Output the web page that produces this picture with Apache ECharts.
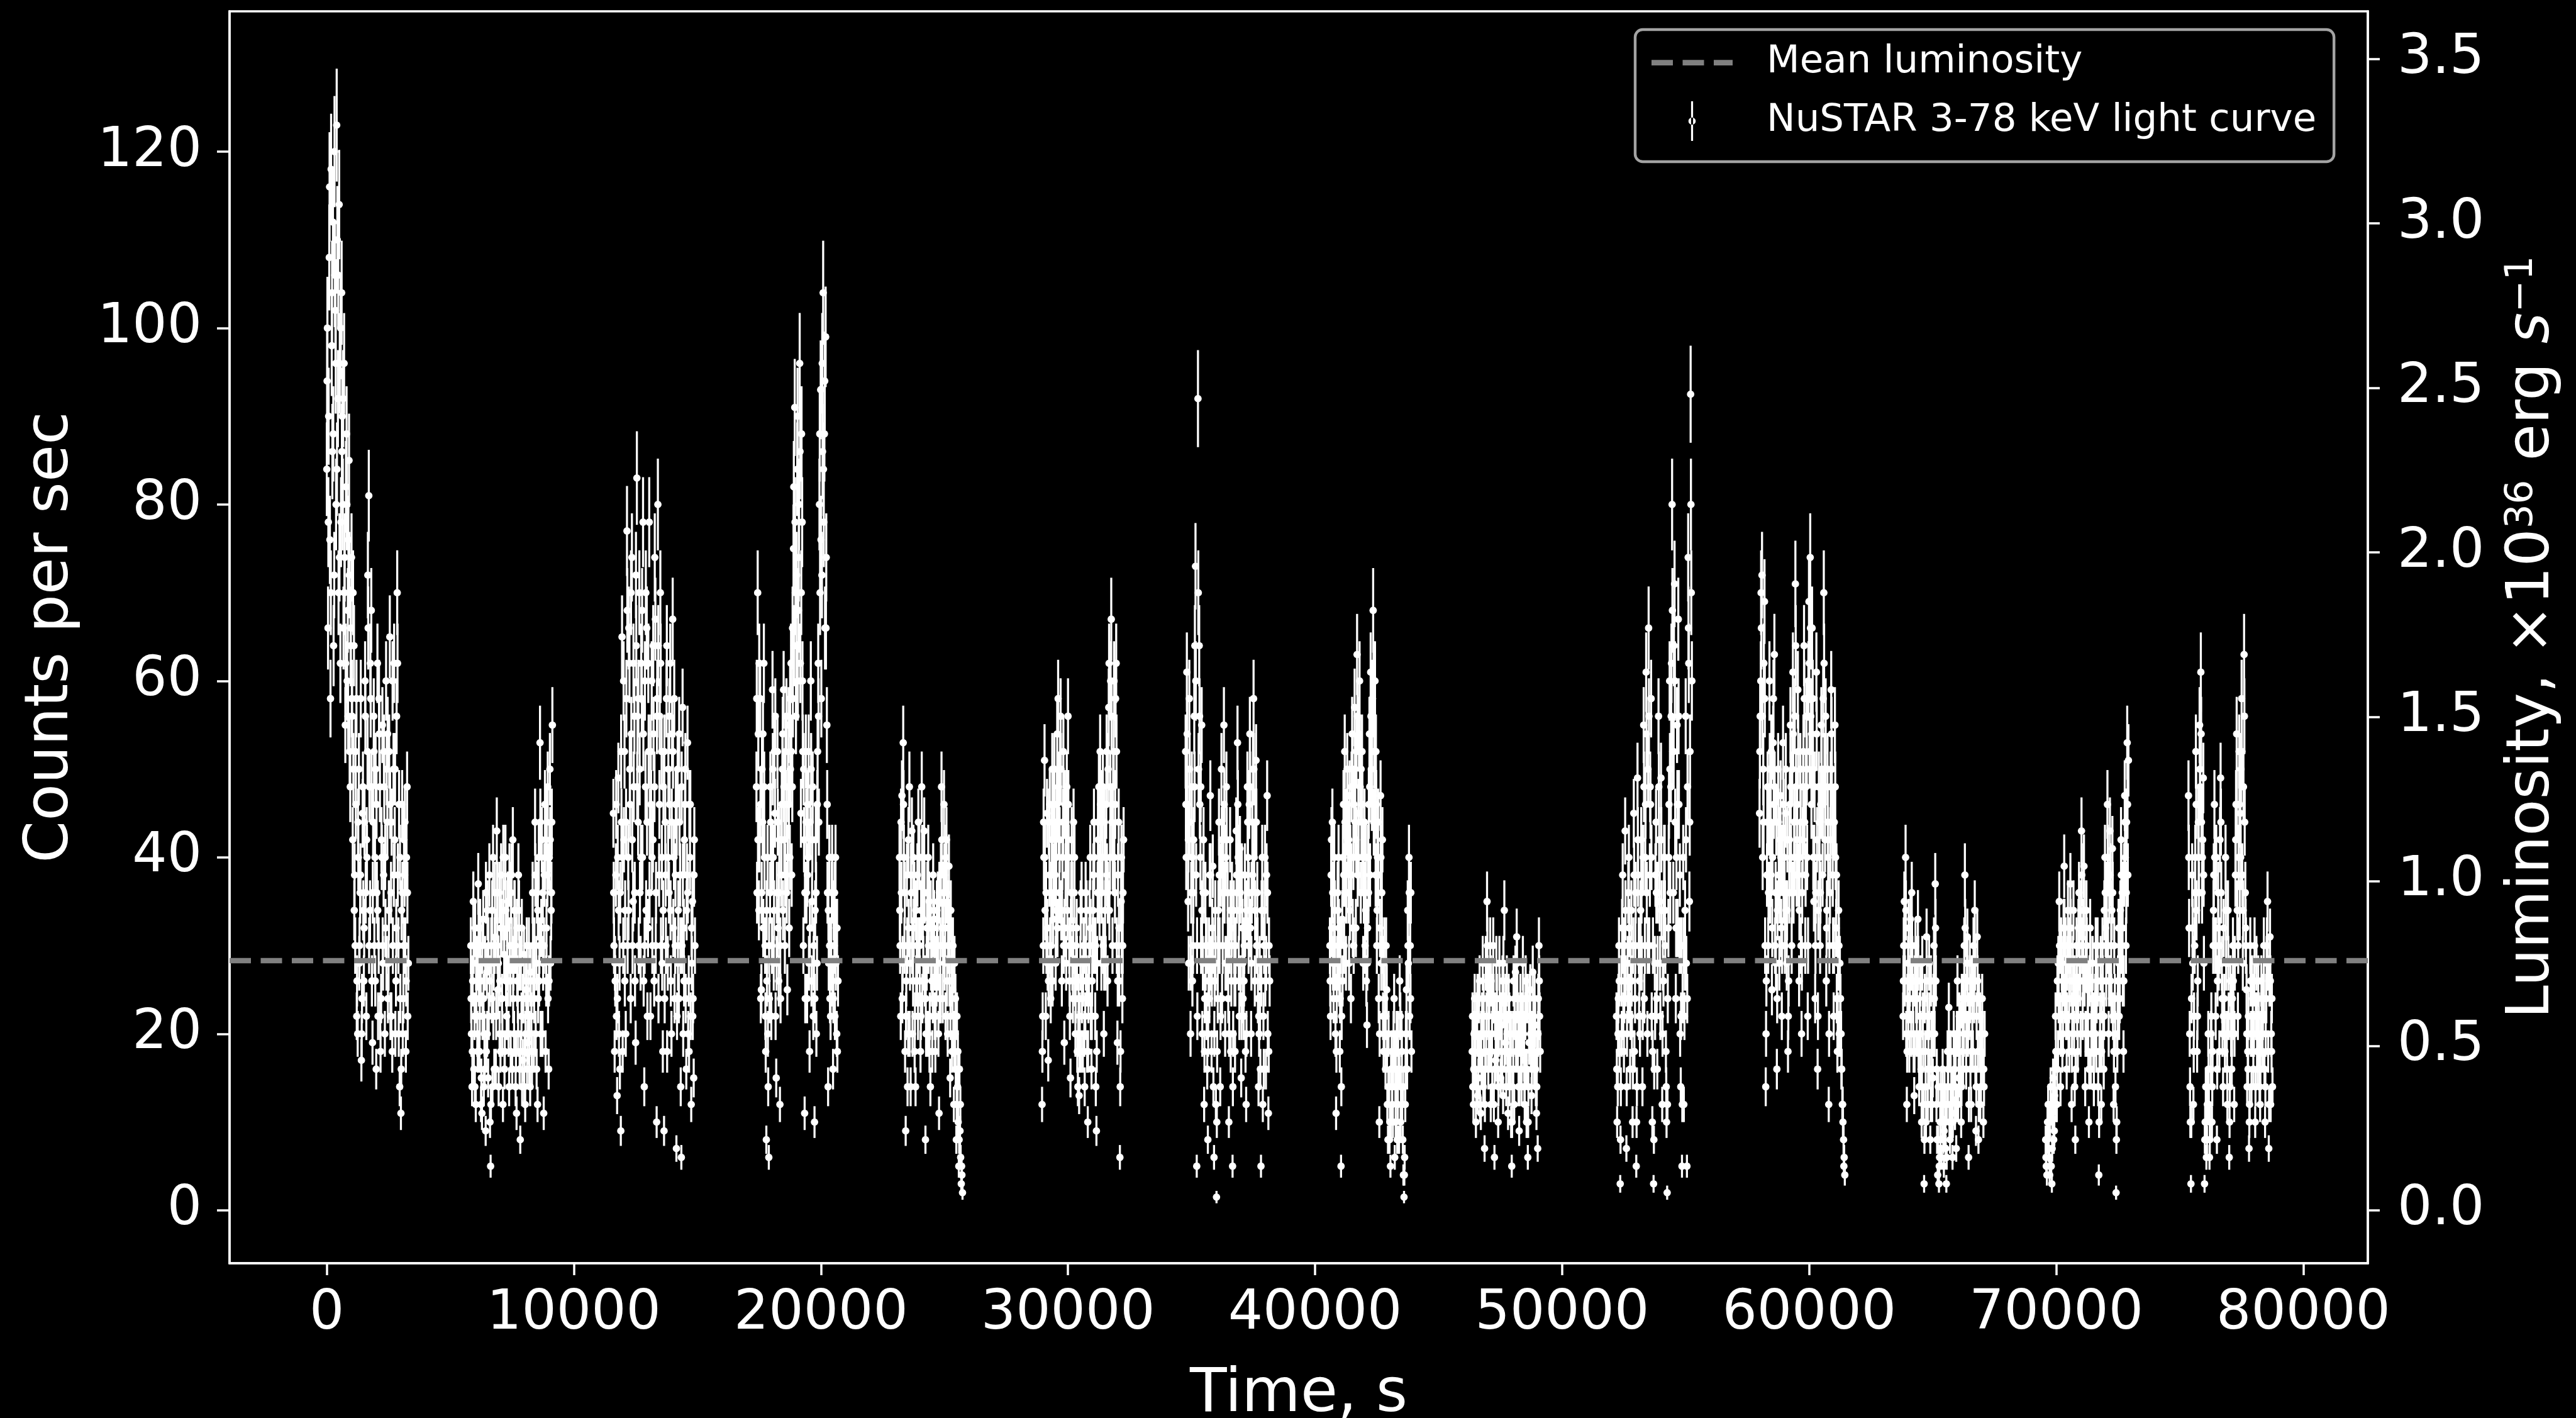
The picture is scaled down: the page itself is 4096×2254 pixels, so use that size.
<!DOCTYPE html>
<html><head><meta charset="utf-8">
<script src="https://cdn.jsdelivr.net/npm/echarts@6/dist/echarts.min.js"></script>
<style>html,body{margin:0;padding:0;background:#000;}#c{width:4096px;height:2254px;}</style>
</head><body><div id="c"></div>
<script>
// ---------------- DATA ----------------
// Light curve in BIN_S-second bins; each segment = one NuSTAR orbit visibility window.
// segNN  -> bins 4i   (t = start + 4*i*BIN_S)
// segNNb -> bins 4i+2 (t = start + (4*i+2)*BIN_S)
// segNNc -> bins 4i+1 (t = start + (4*i+1)*BIN_S)
const BIN_S = 12.5;
const SEG_START = [0, 5830, 11600, 17390, 23180, 28950, 34760, 40600, 46360, 52200, 57990, 63800, 69570, 75350];
// [count rate (counts/s), 1-sigma error]
const seg01 = [[84,5.3],[66,4.7],[108,6.0],[58,4.4],[98,5.7],[112,6.1],[72,4.9],[102,5.8],[123,6.4],[92,5.5],
[114,6.2],[62,4.5],[104,5.9],[80,5.2],[96,5.7],[55,4.3],[88,5.4],[68,4.8],[85,5.3],[48,4.0],
[74,5.0],[42,3.7],[64,4.6],[30,3.2],[58,4.4],[20,2.6],[50,4.1],[36,3.5],[17,2.4],[45,3.9],
[26,2.9],[60,4.5],[22,2.7],[52,4.2],[81,5.2],[34,3.4],[68,4.8],[19,2.5],[56,4.3],[40,3.7],
[16,2.3],[62,4.5],[30,3.2],[48,4.0],[24,2.8],[55,4.3],[38,3.6],[20,2.6],[60,4.5],[44,3.8],
[28,3.1],[65,4.7],[36,3.5],[18,2.4],[50,4.1],[42,3.7],[26,2.9],[70,4.8],[30,3.2],[14,2.2],
[11,1.9],[46,3.9],[24,2.8],[38,3.6],[18,2.4],[48,4.0],[28,3.1]];
const seg01b = [[100,5.8],[90,5.5],[76,5.0],[118,6.3],[86,5.4],[64,4.6],[106,5.9],[80,5.2],[110,6.1],[70,4.8],
[96,5.7],[78,5.1],[90,5.5],[66,4.7],[74,5.0],[82,5.2],[60,4.5],[76,5.0],[52,4.2],[66,4.7],
[56,4.3],[50,4.1],[38,3.6],[46,3.9],[26,2.9],[40,3.7],[30,3.2],[58,4.4],[24,2.8],[34,3.4],
[44,3.8],[36,3.5],[40,3.7],[66,4.7],[48,4.0],[58,4.4],[26,2.9],[44,3.8],[30,3.2],[50,4.1],
[36,3.5],[22,2.7],[54,4.2],[18,2.4],[40,3.7],[28,3.1],[48,4.0],[32,3.3],[50,4.1],[24,2.8],
[52,4.2],[22,2.7],[44,3.8],[30,3.2],[62,4.5],[20,2.6],[56,4.3],[38,3.6],[46,3.9],[24,2.8],
[34,3.4],[20,2.6],[42,3.7],[30,3.2],[40,3.7],[22,2.7]];
const seg01c = [[94,5.6],[78,5.1],[116,6.2],[70,4.8],[104,5.9],[88,5.4],[120,6.3],[96,5.7],[84,5.3],[106,5.9],
[74,5.0],[100,5.8],[86,5.4],[92,5.5],[70,4.8],[62,4.5],[80,5.2],[56,4.3],[72,4.9],[64,4.6],
[58,4.4],[70,4.8],[34,3.4],[52,4.2],[22,2.7],[44,3.8],[28,3.1],[38,3.6],[20,2.6],[48,4.0],
[32,3.3],[56,4.3],[42,3.7],[72,4.9],[30,3.2],[62,4.5],[48,4.0],[36,3.5],[52,4.2],[26,2.9],
[46,3.9],[34,3.4],[58,4.4],[22,2.7],[42,3.7],[30,3.2],[52,4.2],[40,3.7],[28,3.1],[54,4.2],
[34,3.4],[46,3.9],[22,2.7],[60,4.5],[38,3.6],[50,4.1],[32,3.3],[62,4.5],[20,2.6],[40,3.7],
[16,2.3],[36,3.5],[30,3.2],[44,3.8],[26,2.9],[36,3.5]];
const seg02 = [[30,3.2],[14,2.2],[35,3.4],[22,2.7],[12,2.0],[28,3.1],[37,3.5],[18,2.4],[26,2.9],[11,1.9],
[33,3.3],[20,2.6],[9,1.7],[27,3.0],[15,2.2],[38,3.6],[5,1.3],[24,2.8],[40,3.7],[16,2.3],
[31,3.2],[43,3.8],[25,2.9],[36,3.5],[18,2.4],[32,3.3],[12,2.0],[29,3.1],[40,3.7],[22,2.7],
[35,3.4],[14,2.2],[26,2.9],[38,3.6],[42,3.7],[20,2.6],[30,3.2],[11,1.9],[24,2.8],[34,3.4],
[8,1.6],[22,2.7],[17,2.4],[29,3.1],[12,2.0],[25,2.9],[19,2.5],[30,3.2],[14,2.2],[22,2.7],
[36,3.5],[18,2.4],[44,3.8],[28,3.1],[12,2.0],[40,3.7],[53,4.2],[32,3.3],[20,2.6],[11,1.9],
[46,3.9],[26,2.9],[38,3.6],[16,2.3],[50,4.1],[34,3.4],[55,4.3]];
const seg02b = [[20,2.6],[26,2.9],[16,2.3],[32,3.3],[24,2.8],[18,2.4],[26,2.9],[32,3.3],[15,2.2],[22,2.7],
[14,2.2],[28,3.1],[18,2.4],[34,3.4],[22,2.7],[10,1.8],[30,3.2],[14,2.2],[28,3.1],[36,3.5],
[22,2.7],[30,3.2],[14,2.2],[26,2.9],[38,3.6],[20,2.6],[34,3.4],[18,2.4],[26,2.9],[32,3.3],
[20,2.6],[30,3.2],[36,3.5],[16,2.3],[28,3.1],[34,3.4],[18,2.4],[26,2.9],[38,3.6],[16,2.3],
[28,3.1],[14,2.2],[24,2.8],[18,2.4],[26,2.9],[16,2.3],[24,2.8],[20,2.6],[27,3.0],[16,2.3],
[26,2.9],[30,3.2],[20,2.6],[36,3.5],[24,2.8],[30,3.2],[20,2.6],[42,3.7],[28,3.1],[38,3.6],
[18,2.4],[44,3.8],[24,2.8],[40,3.7],[28,3.1],[44,3.8]];
const seg02c = [[24,2.8],[18,2.4],[30,3.2],[14,2.2],[28,3.1],[20,2.6],[32,3.3],[22,2.7],[12,2.0],[30,3.2],
[24,2.8],[16,2.3],[36,3.5],[20,2.6],[30,3.2],[26,2.9],[12,2.0],[34,3.4],[22,2.7],[30,3.2],
[16,2.3],[36,3.5],[28,3.1],[20,2.6],[32,3.3],[24,2.8],[40,3.7],[16,2.3],[34,3.4],[28,3.1],
[26,2.9],[38,3.6],[18,2.4],[30,3.2],[24,2.8],[34,3.4],[14,2.2],[32,3.3],[20,2.6],[28,3.1],
[18,2.4],[32,3.3],[24,2.8],[14,2.2],[20,2.6],[30,3.2],[22,2.7],[16,2.3],[26,2.9],[18,2.4],
[30,3.2],[24,2.8],[38,3.6],[16,2.3],[34,3.4],[26,2.9],[44,3.8],[20,2.6],[36,3.5],[30,3.2],
[40,3.7],[32,3.3],[48,4.0],[26,2.9],[42,3.7],[36,3.5]];
const seg03 = [[45,3.9],[18,2.4],[38,3.6],[13,2.1],[49,4.0],[28,3.1],[9,1.7],[65,4.7],[30,3.2],[52,4.2],
[20,2.6],[77,5.1],[40,3.7],[62,4.5],[24,2.8],[74,5.0],[35,3.4],[56,4.3],[19,2.5],[83,5.3],
[44,3.8],[70,4.8],[28,3.1],[58,4.4],[78,5.1],[14,2.2],[48,4.0],[66,4.7],[32,3.3],[78,5.1],
[22,2.7],[60,4.5],[42,3.7],[26,2.9],[67,4.7],[10,1.8],[80,5.2],[38,3.6],[70,4.8],[52,4.2],
[18,2.4],[9,1.7],[44,3.8],[58,4.4],[28,3.1],[36,3.5],[62,4.5],[20,2.6],[67,4.7],[40,3.7],
[30,3.2],[7,1.5],[50,4.1],[24,2.8],[38,3.6],[6,1.4],[57,4.4],[32,3.3],[46,3.9],[16,2.3],
[53,4.2],[26,2.9],[40,3.7],[12,2.0],[35,3.4],[15,2.2],[30,3.2]];
const seg03b = [[30,3.2],[26,2.9],[22,2.7],[40,3.7],[20,2.6],[36,3.5],[44,3.8],[18,2.4],[42,3.7],[34,3.4],
[58,4.4],[30,3.2],[66,4.7],[46,3.9],[54,4.2],[30,3.2],[48,4.0],[26,2.9],[64,4.6],[56,4.3],
[30,3.2],[36,3.5],[62,4.5],[40,3.7],[26,2.9],[60,4.5],[34,3.4],[22,2.7],[52,4.2],[44,3.8],
[46,3.9],[30,3.2],[54,4.2],[74,5.0],[36,3.5],[58,4.4],[24,2.8],[56,4.3],[30,3.2],[28,3.1],
[48,4.0],[24,2.8],[30,3.2],[18,2.4],[50,4.1],[46,3.9],[26,2.9],[54,4.2],[32,3.3],[24,2.8],
[46,3.9],[22,2.7],[34,3.4],[44,3.8],[14,2.2],[30,3.2],[20,2.6],[42,3.7],[24,2.8],[38,3.6],
[20,2.6],[46,3.9],[22,2.7],[28,3.1],[24,2.8],[42,3.7]];
const seg03c = [[36,3.5],[28,3.1],[46,3.9],[24,2.8],[34,3.4],[16,2.3],[52,4.2],[40,3.7],[60,4.5],[26,2.9],
[44,3.8],[68,4.8],[34,3.4],[50,4.1],[70,4.8],[42,3.7],[62,4.5],[36,3.5],[72,4.9],[48,4.0],
[58,4.4],[50,4.1],[40,3.7],[68,4.8],[54,4.2],[30,3.2],[70,4.8],[44,3.8],[62,4.5],[36,3.5],
[52,4.2],[40,3.7],[64,4.6],[48,4.0],[30,3.2],[56,4.3],[64,4.6],[46,3.9],[62,4.5],[40,3.7],
[34,3.4],[52,4.2],[38,3.6],[64,4.6],[40,3.7],[56,4.3],[34,3.4],[44,3.8],[52,4.2],[58,4.4],
[38,3.6],[44,3.8],[28,3.1],[54,4.2],[30,3.2],[48,4.0],[38,3.6],[26,2.9],[50,4.1],[34,3.4],
[36,3.5],[18,2.4],[46,3.9],[32,3.3],[22,2.7],[38,3.6]];
const seg04 = [[48,4.0],[70,4.8],[34,3.4],[58,4.4],[25,2.9],[44,3.8],[62,4.5],[30,3.2],[8,1.6],[40,3.7],
[6,1.4],[36,3.5],[22,2.7],[59,4.4],[28,3.1],[45,3.9],[15,2.2],[52,4.2],[26,2.9],[12,2.0],
[38,3.6],[50,4.1],[59,4.4],[30,3.2],[46,3.9],[25,2.9],[55,4.3],[40,3.7],[62,4.5],[48,4.0],
[75,5.0],[91,5.5],[56,4.3],[84,5.3],[68,4.8],[96,5.7],[45,3.9],[78,5.1],[30,3.2],[11,1.9],
[52,4.2],[24,2.8],[40,3.7],[18,2.4],[60,4.5],[35,3.4],[22,2.7],[10,1.8],[42,3.7],[28,3.1],
[62,4.5],[80,5.2],[93,5.6],[72,4.9],[104,5.9],[88,5.4],[99,5.7],[55,4.3],[14,2.2],[40,3.7],
[22,2.7],[36,3.5],[16,2.3],[30,3.2],[40,3.7],[20,2.6],[26,2.9]];
const seg04b = [[36,3.5],[54,4.2],[42,3.7],[24,2.8],[50,4.1],[32,3.3],[40,3.7],[18,2.4],[26,2.9],[14,2.2],
[24,2.8],[44,3.8],[30,3.2],[40,3.7],[52,4.2],[22,2.7],[36,3.5],[32,3.3],[42,3.7],[24,2.8],
[46,3.9],[34,3.4],[42,3.7],[52,4.2],[36,3.5],[48,4.0],[32,3.3],[50,4.1],[38,3.6],[58,4.4],
[64,4.6],[70,4.8],[72,4.9],[60,4.5],[80,5.2],[62,4.5],[88,5.4],[52,4.2],[42,3.7],[24,2.8],
[36,3.5],[46,3.9],[28,3.1],[44,3.8],[26,2.9],[48,4.0],[30,3.2],[34,3.4],[20,2.6],[52,4.2],
[44,3.8],[70,4.8],[58,4.4],[86,5.4],[78,5.1],[66,4.7],[74,5.0],[36,3.5],[28,3.1],[24,2.8],
[30,3.2],[26,2.9],[34,3.4],[22,2.7],[32,3.3],[18,2.4]];
const seg04c = [[58,4.4],[42,3.7],[62,4.5],[46,3.9],[36,3.5],[54,4.2],[48,4.0],[22,2.7],[34,3.4],[20,2.6],
[30,3.2],[48,4.0],[40,3.7],[50,4.1],[34,3.4],[56,4.3],[28,3.1],[44,3.8],[36,3.5],[30,3.2],
[42,3.7],[54,4.2],[48,4.0],[38,3.6],[56,4.3],[40,3.7],[46,3.9],[58,4.4],[52,4.2],[66,4.7],
[82,5.2],[78,5.1],[64,4.6],[90,5.5],[74,5.0],[86,5.4],[70,4.8],[60,4.5],[50,4.1],[36,3.5],
[44,3.8],[38,3.6],[52,4.2],[32,3.3],[50,4.1],[42,3.7],[28,3.1],[24,2.8],[36,3.5],[46,3.9],
[56,4.3],[88,5.4],[76,5.0],[96,5.7],[84,5.3],[94,5.6],[66,4.7],[46,3.9],[34,3.4],[30,3.2],
[28,3.1],[40,3.7],[24,2.8],[36,3.5],[28,3.1],[32,3.3]];
const seg05 = [[40,3.7],[22,2.7],[47,4.0],[53,4.2],[30,3.2],[9,1.7],[38,3.6],[20,2.6],[48,4.0],[14,2.2],
[43,3.8],[26,2.9],[36,3.5],[14,2.2],[30,3.2],[22,2.7],[40,3.7],[18,2.4],[48,4.0],[33,3.3],
[43,3.8],[8,1.6],[28,3.1],[20,2.6],[35,3.4],[14,2.2],[30,3.2],[24,2.8],[33,3.3],[18,2.4],
[26,2.9],[35,3.4],[11,1.9],[30,3.2],[48,4.0],[24,2.8],[46,3.9],[32,3.3],[42,3.7],[20,2.6],
[39,3.6],[15,2.2],[30,3.2],[25,2.9],[12,2.0],[20,2.6],[8,1.6],[14,2.2],[5,1.3],[9,1.7],
[3,1.0],[2,0.8]];
const seg05b = [[30,3.2],[36,3.5],[28,3.1],[40,3.7],[18,2.4],[26,2.9],[14,2.2],[32,3.3],[28,3.1],[36,3.5],
[20,2.6],[32,3.3],[22,2.7],[26,2.9],[38,3.6],[30,3.2],[26,2.9],[34,3.4],[24,2.8],[40,3.7],
[26,2.9],[20,2.6],[36,3.5],[30,3.2],[22,2.7],[28,3.1],[18,2.4],[32,3.3],[22,2.7],[28,3.1],
[30,3.2],[20,2.6],[24,2.8],[38,3.6],[32,3.3],[36,3.5],[28,3.1],[40,3.7],[26,2.9],[34,3.4],
[26,2.9],[34,3.4],[18,2.4],[20,2.6],[28,3.1],[16,2.3],[22,2.7],[10,1.8],[16,2.3],[6,1.4],
[4,1.2]];
const seg05c = [[34,3.4],[44,3.8],[24,2.8],[46,3.9],[36,3.5],[22,2.7],[30,3.2],[42,3.7],[20,2.6],[38,3.6],
[30,3.2],[40,3.7],[18,2.4],[34,3.4],[26,2.9],[44,3.8],[30,3.2],[22,2.7],[40,3.7],[28,3.1],
[36,3.5],[24,2.8],[32,3.3],[40,3.7],[18,2.4],[34,3.4],[26,2.9],[38,3.6],[28,3.1],[22,2.7],
[34,3.4],[28,3.1],[36,3.5],[24,2.8],[42,3.7],[30,3.2],[38,3.6],[22,2.7],[36,3.5],[30,3.2],
[32,3.3],[22,2.7],[26,2.9],[30,3.2],[18,2.4],[24,2.8],[12,2.0],[18,2.4],[8,1.6],[12,2.0],
[5,1.3]];
const seg06 = [[12,2.0],[30,3.2],[51,4.1],[22,2.7],[45,3.9],[17,2.4],[38,3.6],[24,2.8],[42,3.7],[33,3.3],
[50,4.1],[28,3.1],[46,3.9],[58,4.4],[36,3.5],[56,4.3],[26,2.9],[44,3.8],[19,2.5],[38,3.6],
[48,4.0],[56,4.3],[30,3.2],[15,2.2],[42,3.7],[24,2.8],[36,3.5],[20,2.6],[32,3.3],[14,2.2],
[13,2.1],[28,3.1],[36,3.5],[18,2.4],[30,3.2],[22,2.7],[34,3.4],[10,1.8],[26,2.9],[40,3.7],
[16,2.3],[30,3.2],[44,3.8],[22,2.7],[9,1.7],[36,3.5],[48,4.0],[52,4.2],[28,3.1],[40,3.7],
[20,2.6],[34,3.4],[46,3.9],[26,2.9],[57,4.4],[40,3.7],[67,4.7],[30,3.2],[52,4.2],[36,3.5],
[62,4.5],[19,2.5],[44,3.8],[6,1.4],[35,3.4],[24,2.8],[42,3.7]];
const seg06b = [[22,2.7],[40,3.7],[34,3.4],[30,3.2],[28,3.1],[44,3.8],[30,3.2],[36,3.5],[26,2.9],[46,3.9],
[38,3.6],[40,3.7],[32,3.3],[44,3.8],[50,4.1],[34,3.4],[40,3.7],[30,3.2],[46,3.9],[28,3.1],
[34,3.4],[40,3.7],[22,2.7],[36,3.5],[28,3.1],[44,3.8],[26,2.9],[30,3.2],[18,2.4],[24,2.8],
[22,2.7],[18,2.4],[26,2.9],[30,3.2],[14,2.2],[28,3.1],[18,2.4],[24,2.8],[34,3.4],[22,2.7],
[26,2.9],[38,3.6],[30,3.2],[14,2.2],[28,3.1],[42,3.7],[34,3.4],[40,3.7],[46,3.9],[30,3.2],
[44,3.8],[28,3.1],[38,3.6],[50,4.1],[34,3.4],[60,4.5],[44,3.8],[48,4.0],[40,3.7],[58,4.4],
[30,3.2],[38,3.6],[26,2.9],[18,2.4],[30,3.2],[36,3.5]];
const seg06c = [[18,2.4],[44,3.8],[40,3.7],[36,3.5],[32,3.3],[26,2.9],[46,3.9],[30,3.2],[50,4.1],[38,3.6],
[44,3.8],[34,3.4],[54,4.2],[48,4.0],[42,3.7],[50,4.1],[34,3.4],[52,4.2],[32,3.3],[44,3.8],
[40,3.7],[46,3.9],[26,2.9],[32,3.3],[36,3.5],[30,3.2],[40,3.7],[24,2.8],[28,3.1],[20,2.6],
[18,2.4],[34,3.4],[24,2.8],[26,2.9],[20,2.6],[36,3.5],[26,2.9],[18,2.4],[30,3.2],[32,3.3],
[22,2.7],[34,3.4],[40,3.7],[30,3.2],[18,2.4],[44,3.8],[38,3.6],[46,3.9],[36,3.5],[48,4.0],
[28,3.1],[40,3.7],[52,4.2],[36,3.5],[62,4.5],[48,4.0],[56,4.3],[40,3.7],[60,4.5],[46,3.9],
[52,4.2],[26,2.9],[32,3.3],[14,2.2],[40,3.7],[30,3.2]];
const seg07 = [[52,4.2],[61,4.5],[35,3.4],[58,4.4],[20,2.6],[48,4.0],[30,3.2],[56,4.3],[73,4.9],[5,1.3],
[92,5.5],[64,4.6],[40,3.7],[55,4.3],[28,3.1],[12,2.0],[36,3.5],[22,2.7],[8,1.6],[30,3.2],
[47,4.0],[18,2.4],[39,3.6],[6,1.4],[34,3.4],[1.5,0.7],[24,2.8],[44,3.8],[14,2.2],[50,4.1],
[30,3.2],[55,4.3],[20,2.6],[48,4.0],[36,3.5],[10,1.8],[42,3.7],[26,2.9],[5,1.3],[34,3.4],
[18,2.4],[43,3.8],[53,4.2],[28,3.1],[41,3.7],[15,2.2],[32,3.3],[22,2.7],[38,3.6],[12,2.0],
[48,4.0],[30,3.2],[54,4.2],[20,2.6],[44,3.8],[58,4.4],[26,2.9],[51,4.1],[36,3.5],[14,2.2],
[28,3.1],[5,1.3],[40,3.7],[22,2.7],[34,3.4],[16,2.3],[47,4.0],[11,1.9],[26,2.9]];
const seg07b = [[40,3.7],[46,3.9],[28,3.1],[44,3.8],[36,3.5],[26,2.9],[42,3.7],[64,4.6],[38,3.6],[22,2.7],
[50,4.1],[46,3.9],[30,3.2],[20,2.6],[42,3.7],[24,2.8],[30,3.2],[16,2.3],[26,2.9],[38,3.6],
[28,3.1],[32,3.3],[14,2.2],[26,2.9],[12,2.0],[18,2.4],[34,3.4],[30,3.2],[38,3.6],[24,2.8],
[42,3.7],[36,3.5],[40,3.7],[28,3.1],[24,2.8],[30,3.2],[18,2.4],[36,3.5],[20,2.6],[26,2.9],
[30,3.2],[36,3.5],[40,3.7],[22,2.7],[26,2.9],[38,3.6],[24,2.8],[30,3.2],[18,2.4],[34,3.4],
[40,3.7],[46,3.9],[32,3.3],[36,3.5],[50,4.1],[40,3.7],[44,3.8],[30,3.2],[24,2.8],[20,2.6],
[16,2.3],[34,3.4],[12,2.0],[30,3.2],[26,2.9],[38,3.6],[20,2.6],[30,3.2]];
const seg07c = [[46,3.9],[54,4.2],[42,3.7],[50,4.1],[28,3.1],[40,3.7],[36,3.5],[48,4.0],[60,4.5],[30,3.2],
[70,4.8],[56,4.3],[48,4.0],[34,3.4],[36,3.5],[18,2.4],[28,3.1],[30,3.2],[20,2.6],[24,2.8],
[38,3.6],[26,2.9],[30,3.2],[20,2.6],[28,3.1],[10,1.8],[30,3.2],[38,3.6],[22,2.7],[42,3.7],
[36,3.5],[46,3.9],[28,3.1],[42,3.7],[30,3.2],[20,2.6],[34,3.4],[32,3.3],[14,2.2],[30,3.2],
[26,2.9],[38,3.6],[46,3.9],[34,3.4],[36,3.5],[22,2.7],[28,3.1],[26,2.9],[32,3.3],[20,2.6],
[44,3.8],[36,3.5],[48,4.0],[28,3.1],[38,3.6],[50,4.1],[34,3.4],[44,3.8],[30,3.2],[22,2.7],
[22,2.7],[26,2.9],[34,3.4],[16,2.3],[40,3.7],[28,3.1],[36,3.5],[18,2.4]];
const seg08 = [[30,3.2],[38,3.6],[44,3.8],[24,2.8],[34,3.4],[11,1.9],[28,3.1],[40,3.7],[18,2.4],[5,1.3],
[33,3.3],[46,3.9],[52,4.2],[28,3.1],[50,4.1],[36,3.5],[47,4.0],[24,2.8],[54,4.2],[40,3.7],
[57,4.4],[32,3.3],[63,4.6],[45,3.9],[60,4.5],[36,3.5],[52,4.2],[28,3.1],[44,3.8],[34,3.4],
[21,2.6],[40,3.7],[54,4.2],[61,4.5],[47,4.0],[68,4.8],[52,4.2],[38,3.6],[30,3.2],[44,3.8],
[10,1.8],[47,4.0],[36,3.5],[22,2.7],[30,3.2],[16,2.3],[25,2.9],[8,1.6],[14,2.2],[5,1.3],
[18,2.4],[10,1.8],[24,2.8],[14,2.2],[20,2.6],[12,2.0],[8,1.6],[22,2.7],[20,2.6],[8,1.6],
[1.5,0.7],[12,2.0],[25,2.9],[34,3.4],[40,3.7],[30,3.2],[18,2.4]];
const seg08b = [[22,2.7],[32,3.3],[28,3.1],[40,3.7],[20,2.6],[24,2.8],[34,3.4],[26,2.9],[30,3.2],[22,2.7],
[40,3.7],[30,3.2],[38,3.6],[44,3.8],[42,3.7],[28,3.1],[40,3.7],[48,4.0],[32,3.3],[46,3.9],
[44,3.8],[52,4.2],[38,3.6],[54,4.2],[48,4.0],[44,3.8],[40,3.7],[36,3.5],[30,3.2],[26,2.9],
[32,3.3],[46,3.9],[38,3.6],[50,4.1],[58,4.4],[44,3.8],[60,4.5],[46,3.9],[40,3.7],[24,2.8],
[32,3.3],[28,3.1],[42,3.7],[18,2.4],[24,2.8],[30,3.2],[12,2.0],[20,2.6],[10,1.8],[16,2.3],
[12,2.0],[20,2.6],[6,1.4],[18,2.4],[8,1.6],[16,2.3],[26,2.9],[14,2.2],[12,2.0],[4,1.2],
[6,1.4],[20,2.6],[16,2.3],[28,3.1],[22,2.7],[36,3.5]];
const seg08c = [[26,2.9],[42,3.7],[36,3.5],[30,3.2],[28,3.1],[18,2.4],[36,3.5],[32,3.3],[24,2.8],[14,2.2],
[26,2.9],[38,3.6],[44,3.8],[36,3.5],[46,3.9],[42,3.7],[34,3.4],[38,3.6],[50,4.1],[30,3.2],
[50,4.1],[42,3.7],[56,4.3],[40,3.7],[52,4.2],[50,4.1],[46,3.9],[40,3.7],[36,3.5],[40,3.7],
[28,3.1],[36,3.5],[48,4.0],[56,4.3],[52,4.2],[60,4.5],[44,3.8],[52,4.2],[34,3.4],[38,3.6],
[20,2.6],[40,3.7],[30,3.2],[28,3.1],[20,2.6],[22,2.7],[18,2.4],[14,2.2],[8,1.6],[10,1.8],
[14,2.2],[16,2.3],[18,2.4],[10,1.8],[14,2.2],[20,2.6],[16,2.3],[10,1.8],[18,2.4],[14,2.2],
[4,1.2],[16,2.3],[20,2.6],[30,3.2],[36,3.5],[24,2.8]];
const seg09 = [[18,2.4],[12,2.0],[24,2.8],[10,1.8],[20,2.6],[15,2.2],[26,2.9],[11,1.9],[22,2.7],[14,2.2],
[7,1.5],[28,3.1],[35,3.4],[16,2.3],[25,2.9],[12,2.0],[20,2.6],[30,3.2],[6,1.4],[17,2.4],
[24,2.8],[10,1.8],[28,3.1],[15,2.2],[21,2.6],[13,2.1],[34,3.4],[19,2.5],[26,2.9],[11,1.9],
[22,2.7],[16,2.3],[5,1.3],[20,2.6],[12,2.0],[27,3.0],[31,3.2],[18,2.4],[9,1.7],[24,2.8],
[14,2.2],[28,3.1],[17,2.4],[22,2.7],[10,1.8],[6,1.4],[19,2.5],[25,2.9],[13,2.1],[27,3.0],
[16,2.3],[21,2.6],[11,1.9],[7,1.5],[30,3.2],[18,2.4]];
const seg09b = [[14,2.2],[20,2.6],[16,2.3],[22,2.7],[13,2.1],[24,2.8],[18,2.4],[16,2.3],[28,3.1],[20,2.6],
[16,2.3],[22,2.7],[26,2.9],[20,2.6],[30,3.2],[18,2.4],[24,2.8],[12,2.0],[22,2.7],[28,3.1],
[16,2.3],[20,2.6],[22,2.7],[18,2.4],[26,2.9],[24,2.8],[22,2.7],[14,2.2],[18,2.4],[24,2.8],
[18,2.4],[10,1.8],[14,2.2],[26,2.9],[22,2.7],[18,2.4],[24,2.8],[14,2.2],[20,2.6],[16,2.3],
[22,2.7],[20,2.6],[12,2.0],[16,2.3],[24,2.8],[14,2.2],[22,2.7],[18,2.4],[20,2.6],[22,2.7],
[24,2.8],[14,2.2],[18,2.4],[24,2.8],[22,2.7]];
const seg09c = [[22,2.7],[16,2.3],[20,2.6],[14,2.2],[24,2.8],[18,2.4],[12,2.0],[20,2.6],[16,2.3],[24,2.8],
[12,2.0],[18,2.4],[30,3.2],[22,2.7],[18,2.4],[26,2.9],[14,2.2],[24,2.8],[16,2.3],[20,2.6],
[20,2.6],[14,2.2],[24,2.8],[22,2.7],[16,2.3],[28,3.1],[18,2.4],[24,2.8],[20,2.6],[16,2.3],
[14,2.2],[20,2.6],[10,1.8],[16,2.3],[24,2.8],[20,2.6],[28,3.1],[22,2.7],[14,2.2],[20,2.6],
[18,2.4],[24,2.8],[14,2.2],[26,2.9],[16,2.3],[10,1.8],[24,2.8],[20,2.6],[16,2.3],[18,2.4],
[20,2.6],[16,2.3],[14,2.2],[20,2.6],[26,2.9]];
const seg10 = [[22,2.7],[14,2.2],[30,3.2],[3,1.0],[26,2.9],[38,3.6],[18,2.4],[43,3.8],[7,1.5],[28,3.1],
[40,3.7],[16,2.3],[34,3.4],[10,1.8],[45,3.9],[24,2.8],[5,1.3],[49,4.0],[30,3.2],[20,2.6],
[42,3.7],[14,2.2],[55,4.3],[30,3.2],[61,4.5],[20,2.6],[66,4.7],[38,3.6],[58,4.4],[10,1.8],
[3,1.0],[28,3.1],[44,3.8],[16,2.3],[56,4.3],[35,3.4],[49,4.0],[12,2.0],[26,2.9],[40,3.7],
[18,2.4],[2,0.8],[32,3.3],[60,4.5],[48,4.0],[80,5.2],[36,3.5],[71,4.9],[24,2.8],[55,4.3],
[67,4.7],[30,3.2],[14,2.2],[5,1.3],[40,3.7],[22,2.7],[56,4.3],[5,1.3],[74,5.0],[35,3.4],
[92.5,5.5],[60,4.5]];
const seg10b = [[10,1.8],[24,2.8],[18,2.4],[14,2.2],[32,3.3],[22,2.7],[30,3.2],[26,2.9],[20,2.6],[36,3.5],
[24,2.8],[28,3.1],[20,2.6],[30,3.2],[18,2.4],[36,3.5],[14,2.2],[38,3.6],[26,2.9],[34,3.4],
[28,3.1],[40,3.7],[24,2.8],[46,3.9],[36,3.5],[50,4.1],[30,3.2],[46,3.9],[22,2.7],[30,3.2],
[16,2.3],[38,3.6],[24,2.8],[36,3.5],[42,3.7],[22,2.7],[34,3.4],[28,3.1],[40,3.7],[30,3.2],
[10,1.8],[24,2.8],[46,3.9],[36,3.5],[62,4.5],[52,4.2],[64,4.6],[44,3.8],[40,3.7],[32,3.3],
[46,3.9],[20,2.6],[30,3.2],[24,2.8],[12,2.0],[34,3.4],[28,3.1],[48,4.0],[62,4.5],[52,4.2],
[70,4.8]];
const seg10c = [[16,2.3],[20,2.6],[26,2.9],[8,1.6],[20,2.6],[30,3.2],[24,2.8],[34,3.4],[14,2.2],[24,2.8],
[32,3.3],[22,2.7],[26,2.9],[16,2.3],[38,3.6],[30,3.2],[10,1.8],[42,3.7],[22,2.7],[28,3.1],
[36,3.5],[22,2.7],[48,4.0],[40,3.7],[54,4.2],[30,3.2],[56,4.3],[48,4.0],[40,3.7],[18,2.4],
[8,1.6],[22,2.7],[36,3.5],[28,3.1],[48,4.0],[28,3.1],[42,3.7],[20,2.6],[34,3.4],[34,3.4],
[14,2.2],[12,2.0],[40,3.7],[50,4.1],[56,4.3],[68,4.8],[52,4.2],[60,4.5],[32,3.3],[46,3.9],
[56,4.3],[38,3.6],[22,2.7],[12,2.0],[30,3.2],[28,3.1],[42,3.7],[24,2.8],[66,4.7],[44,3.8],
[80,5.2]];
const seg11 = [[45,3.9],[60,4.5],[72,4.9],[50,4.1],[69,4.8],[14,2.2],[38,3.6],[30,3.2],[60,4.5],[44,3.8],
[25,2.9],[53,4.2],[63,4.6],[36,3.5],[16,2.3],[50,4.1],[28,3.1],[47,4.0],[22,2.7],[53,4.2],
[40,3.7],[45,3.9],[28,3.1],[18,2.4],[36,3.5],[55,4.3],[30,3.2],[61,4.5],[44,3.8],[71,4.9],
[38,3.6],[59,4.4],[26,2.9],[50,4.1],[20,2.6],[42,3.7],[64,4.6],[30,3.2],[56,4.3],[22,2.7],
[69,4.8],[74,5.0],[46,3.9],[58,4.4],[35,3.4],[24,2.8],[61,4.5],[16,2.3],[48,4.0],[30,3.2],
[55,4.3],[38,3.6],[70,4.8],[42,3.7],[26,2.9],[50,4.1],[12,2.0],[36,3.5],[59,4.4],[44,3.8],
[22,2.7],[55,4.3],[32,3.3],[18,2.4],[34,3.4],[28,3.1],[20,2.6],[12,2.0],[8,1.6],[4,1.2]];
const seg11b = [[56,4.3],[66,4.7],[40,3.7],[62,4.5],[30,3.2],[26,2.9],[48,4.0],[44,3.8],[36,3.5],[52,4.2],
[40,3.7],[46,3.9],[30,3.2],[44,3.8],[34,3.4],[38,3.6],[42,3.7],[32,3.3],[40,3.7],[36,3.5],
[30,3.2],[34,3.4],[42,3.7],[26,2.9],[46,3.9],[40,3.7],[50,4.1],[36,3.5],[56,4.3],[48,4.0],
[46,3.9],[38,3.6],[40,3.7],[30,3.2],[36,3.5],[52,4.2],[44,3.8],[48,4.0],[40,3.7],[60,4.5],
[52,4.2],[56,4.3],[66,4.7],[40,3.7],[48,4.0],[36,3.5],[42,3.7],[34,3.4],[40,3.7],[46,3.9],
[46,3.9],[58,4.4],[50,4.1],[56,4.3],[34,3.4],[40,3.7],[30,3.2],[48,4.0],[50,4.1],[30,3.2],
[44,3.8],[40,3.7],[24,2.8],[28,3.1],[20,2.6],[24,2.8],[16,2.3],[10,1.8],[6,1.4]];
const seg11c = [[52,4.2],[70,4.8],[56,4.3],[44,3.8],[58,4.4],[20,2.6],[44,3.8],[36,3.5],[50,4.1],[38,3.6],
[32,3.3],[58,4.4],[48,4.0],[28,3.1],[24,2.8],[44,3.8],[36,3.5],[40,3.7],[30,3.2],[46,3.9],
[36,3.5],[50,4.1],[34,3.4],[22,2.7],[42,3.7],[48,4.0],[36,3.5],[54,4.2],[40,3.7],[64,4.6],
[42,3.7],[52,4.2],[34,3.4],[44,3.8],[28,3.1],[48,4.0],[58,4.4],[38,3.6],[50,4.1],[30,3.2],
[62,4.5],[66,4.7],[54,4.2],[50,4.1],[40,3.7],[30,3.2],[54,4.2],[22,2.7],[44,3.8],[36,3.5],
[50,4.1],[46,3.9],[62,4.5],[48,4.0],[32,3.3],[44,3.8],[20,2.6],[42,3.7],[54,4.2],[38,3.6],
[30,3.2],[48,4.0],[38,3.6],[22,2.7],[30,3.2],[24,2.8],[16,2.3],[12,2.0],[5,1.3]];
const seg12 = [[22,2.7],[35,3.4],[40,3.7],[12,2.0],[28,3.1],[18,2.4],[33,3.3],[36,3.5],[24,2.8],[13,2.1],
[30,3.2],[20,2.6],[33,3.3],[14,2.2],[26,2.9],[10,1.8],[22,2.7],[3,1.0],[18,2.4],[31,3.2],
[12,2.0],[28,3.1],[8,1.6],[20,2.6],[15,2.2],[30,3.2],[37,3.5],[12,2.0],[4,1.2],[3,1.0],
[10,1.8],[6,1.4],[16,2.3],[5,1.3],[12,2.0],[3,1.0],[18,2.4],[23,2.8],[8,1.6],[14,2.2],
[6,1.4],[20,2.6],[11,1.9],[7,1.5],[26,2.9],[15,2.2],[21,2.6],[10,1.8],[18,2.4],[24,2.8],
[38,3.6],[16,2.3],[31,3.2],[6,1.4],[28,3.1],[12,2.0],[22,2.7],[30,3.2],[34,3.4],[9,1.7],
[31,3.2],[8,1.6],[18,2.4],[14,2.2],[24,2.8],[10,1.8],[20,2.6]];
const seg12b = [[30,3.2],[26,2.9],[20,2.6],[24,2.8],[32,3.3],[26,2.9],[20,2.6],[28,3.1],[18,2.4],[26,2.9],
[24,2.8],[28,3.1],[18,2.4],[22,2.7],[16,2.3],[28,3.1],[12,2.0],[24,2.8],[10,1.8],[22,2.7],
[20,2.6],[16,2.3],[26,2.9],[12,2.0],[24,2.8],[20,2.6],[26,2.9],[8,1.6],[14,2.2],[6,1.4],
[14,2.2],[10,1.8],[8,1.6],[14,2.2],[7,1.5],[12,2.0],[16,2.3],[10,1.8],[18,2.4],[10,1.8],
[14,2.2],[16,2.3],[18,2.4],[20,2.6],[12,2.0],[22,2.7],[14,2.2],[24,2.8],[16,2.3],[30,3.2],
[24,2.8],[28,3.1],[20,2.6],[22,2.7],[16,2.3],[26,2.9],[18,2.4],[24,2.8],[16,2.3],[22,2.7],
[18,2.4],[24,2.8],[12,2.0],[20,2.6],[16,2.3],[14,2.2]];
const seg12c = [[26,2.9],[30,3.2],[34,3.4],[18,2.4],[22,2.7],[24,2.8],[28,3.1],[30,3.2],[20,2.6],[18,2.4],
[26,2.9],[24,2.8],[28,3.1],[18,2.4],[20,2.6],[14,2.2],[18,2.4],[8,1.6],[14,2.2],[26,2.9],
[16,2.3],[22,2.7],[12,2.0],[16,2.3],[20,2.6],[24,2.8],[32,3.3],[16,2.3],[8,1.6],[5,1.3],
[7,1.5],[12,2.0],[12,2.0],[9,1.7],[10,1.8],[6,1.4],[14,2.2],[18,2.4],[12,2.0],[10,1.8],
[10,1.8],[18,2.4],[14,2.2],[12,2.0],[20,2.6],[18,2.4],[16,2.3],[14,2.2],[22,2.7],[20,2.6],
[32,3.3],[20,2.6],[26,2.9],[12,2.0],[24,2.8],[18,2.4],[26,2.9],[26,2.9],[28,3.1],[14,2.2],
[26,2.9],[12,2.0],[22,2.7],[18,2.4],[20,2.6],[16,2.3]];
const seg13 = [[8,1.6],[4,1.2],[12,2.0],[6,1.4],[14,2.2],[3,1.0],[15,2.2],[9,1.7],[22,2.7],[12,2.0],
[18,2.4],[35,3.4],[14,2.2],[28,3.1],[20,2.6],[39,3.6],[30,3.2],[16,2.3],[34,3.4],[24,2.8],
[37,3.5],[12,2.0],[28,3.1],[20,2.6],[8,1.6],[30,3.2],[18,2.4],[36,3.5],[26,2.9],[43,3.8],
[22,2.7],[39,3.6],[14,2.2],[34,3.4],[25,2.9],[10,1.8],[32,3.3],[20,2.6],[28,3.1],[14,2.2],
[24,2.8],[18,2.4],[30,3.2],[4,1.2],[22,2.7],[12,2.0],[30,3.2],[16,2.3],[40,3.7],[26,2.9],
[46,3.9],[20,2.6],[43,3.8],[30,3.2],[41,3.7],[12,2.0],[24,2.8],[2,0.8],[18,2.4],[32,3.3],
[24,2.8],[42,3.7],[36,3.5],[18,2.4],[47,4.0],[30,3.2],[53,4.2],[51,4.1]];
const seg13b = [[5,1.3],[10,1.8],[7,1.5],[10,1.8],[5,1.3],[11,1.9],[8,1.6],[16,2.3],[12,2.0],[26,2.9],
[24,2.8],[22,2.7],[30,3.2],[18,2.4],[32,3.3],[24,2.8],[22,2.7],[28,3.1],[20,2.6],[30,3.2],
[26,2.9],[22,2.7],[34,3.4],[14,2.2],[24,2.8],[22,2.7],[32,3.3],[28,3.1],[34,3.4],[30,3.2],
[32,3.3],[26,2.9],[28,3.1],[20,2.6],[18,2.4],[26,2.9],[16,2.3],[24,2.8],[18,2.4],[22,2.7],
[30,3.2],[26,2.9],[14,2.2],[18,2.4],[28,3.1],[24,2.8],[20,2.6],[34,3.4],[32,3.3],[36,3.5],
[30,3.2],[36,3.5],[26,2.9],[34,3.4],[22,2.7],[30,3.2],[14,2.2],[10,1.8],[26,2.9],[22,2.7],
[34,3.4],[30,3.2],[26,2.9],[38,3.6],[40,3.7],[44,3.8],[38,3.6]];
const seg13c = [[6,1.4],[8,1.6],[10,1.8],[4,1.2],[12,2.0],[7,1.5],[12,2.0],[13,2.1],[18,2.4],[16,2.3],
[28,3.1],[30,3.2],[20,2.6],[24,2.8],[26,2.9],[32,3.3],[26,2.9],[22,2.7],[30,3.2],[18,2.4],
[32,3.3],[18,2.4],[24,2.8],[26,2.9],[16,2.3],[26,2.9],[24,2.8],[30,3.2],[20,2.6],[38,3.6],
[26,2.9],[34,3.4],[20,2.6],[30,3.2],[22,2.7],[16,2.3],[28,3.1],[24,2.8],[22,2.7],[18,2.4],
[20,2.6],[24,2.8],[26,2.9],[10,1.8],[18,2.4],[18,2.4],[26,2.9],[22,2.7],[36,3.5],[30,3.2],
[40,3.7],[26,2.9],[38,3.6],[24,2.8],[36,3.5],[18,2.4],[20,2.6],[8,1.6],[22,2.7],[28,3.1],
[30,3.2],[38,3.6],[32,3.3],[26,2.9],[44,3.8],[36,3.5],[46,3.9]];
const seg14 = [[47,4.0],[20,2.6],[3,1.0],[38,3.6],[12,2.0],[30,3.2],[52,4.2],[18,2.4],[44,3.8],[55,4.3],
[61,4.5],[36,3.5],[49,4.0],[3,1.0],[14,2.2],[8,1.6],[20,2.6],[6,1.4],[16,2.3],[10,1.8],
[30,3.2],[46,3.9],[22,2.7],[8,1.6],[36,3.5],[18,2.4],[49,4.0],[28,3.1],[14,2.2],[24,2.8],
[40,3.7],[20,2.6],[34,3.4],[6,1.4],[26,2.9],[16,2.3],[30,3.2],[12,2.0],[38,3.6],[54,4.2],
[22,2.7],[52,4.2],[45,3.9],[58,4.4],[28,3.1],[63,4.6],[36,3.5],[25,2.9],[18,2.4],[7,1.5],
[30,3.2],[14,2.2],[24,2.8],[20,2.6],[10,1.8],[28,3.1],[16,2.3],[22,2.7],[12,2.0],[26,2.9],
[18,2.4],[30,3.2],[10,1.8],[24,2.8],[35,3.4],[7,1.5],[31,3.2],[20,2.6],[14,2.2]];
const seg14b = [[32,3.3],[10,1.8],[24,2.8],[28,3.1],[22,2.7],[40,3.7],[34,3.4],[26,2.9],[36,3.5],[48,4.0],
[44,3.8],[42,3.7],[28,3.1],[10,1.8],[6,1.4],[14,2.2],[12,2.0],[10,1.8],[22,2.7],[18,2.4],
[38,3.6],[30,3.2],[40,3.7],[26,2.9],[28,3.1],[42,3.7],[36,3.5],[20,2.6],[32,3.3],[18,2.4],
[28,3.1],[12,2.0],[22,2.7],[14,2.2],[20,2.6],[24,2.8],[22,2.7],[28,3.1],[46,3.9],[34,3.4],
[40,3.7],[34,3.4],[50,4.1],[38,3.6],[48,4.0],[44,3.8],[30,3.2],[14,2.2],[22,2.7],[12,2.0],
[20,2.6],[26,2.9],[16,2.3],[30,3.2],[22,2.7],[18,2.4],[26,2.9],[14,2.2],[20,2.6],[22,2.7],
[24,2.8],[16,2.3],[20,2.6],[30,3.2],[18,2.4],[26,2.9],[12,2.0],[24,2.8]];
const seg14c = [[40,3.7],[14,2.2],[10,1.8],[32,3.3],[18,2.4],[36,3.5],[46,3.9],[22,2.7],[40,3.7],[50,4.1],
[54,4.2],[40,3.7],[38,3.6],[8,1.6],[10,1.8],[12,2.0],[16,2.3],[8,1.6],[20,2.6],[14,2.2],
[34,3.4],[40,3.7],[30,3.2],[16,2.3],[32,3.3],[30,3.2],[44,3.8],[24,2.8],[22,2.7],[20,2.6],
[34,3.4],[16,2.3],[28,3.1],[10,1.8],[22,2.7],[20,2.6],[26,2.9],[20,2.6],[42,3.7],[46,3.9],
[30,3.2],[46,3.9],[40,3.7],[52,4.2],[34,3.4],[56,4.3],[32,3.3],[20,2.6],[16,2.3],[10,1.8],
[26,2.9],[20,2.6],[20,2.6],[26,2.9],[14,2.2],[22,2.7],[20,2.6],[18,2.4],[16,2.3],[24,2.8],
[22,2.7],[24,2.8],[14,2.2],[28,3.1],[28,3.1],[12,2.0],[26,2.9],[18,2.4]];

const MEAN_COUNTS = 28.3;          // mean luminosity level, in counts/s
const COUNTS_PER_LUM = 37.29;      // counts/s per 1e36 erg/s (right-axis scale)
const X_TICKS = [0, 10000, 20000, 30000, 40000, 50000, 60000, 70000, 80000];
const Y_TICKS = [0, 20, 40, 60, 80, 100, 120];
const LUM_TICKS = [0, 0.5, 1.0, 1.5, 2.0, 2.5, 3.0, 3.5];
const X_MIN = -3936, X_MAX = 82609;
const Y_MIN = -6.0, Y_MAX = 135.9;
const SERIES_LC = 'NuSTAR 3-78 keV light curve';
const SERIES_MEAN = 'Mean luminosity';

// ---------------- BUILD ----------------
const SETS = [
  { bin: 0, segs: [seg01, seg02, seg03, seg04, seg05, seg06, seg07, seg08, seg09, seg10, seg11, seg12, seg13, seg14] },
  { bin: 2, segs: [seg01b, seg02b, seg03b, seg04b, seg05b, seg06b, seg07b, seg08b, seg09b, seg10b, seg11b, seg12b, seg13b, seg14b] },
  { bin: 1, segs: [seg01c, seg02c, seg03c, seg04c, seg05c, seg06c, seg07c, seg08c, seg09c, seg10c, seg11c, seg12c, seg13c, seg14c] }
];
const points = [];
SETS.forEach(set => set.segs.forEach((seg, s) => seg.forEach((p, i) =>
  points.push([SEG_START[s] + (4 * i + set.bin) * BIN_S, p[0], p[1]]))));
points.sort((a, b) => a[0] - b[0]);

const FONT = "'DejaVu Sans', 'Noto Sans', sans-serif";
const BAR_W = 3.3;
const MARKER_R = 5.9;

function renderErrorBar(params, api) {
  const t = api.value(0), y = api.value(1), e = api.value(2);
  const c = api.coord([t, y]);
  const hi = api.coord([t, y + e]);
  const lo = api.coord([t, y - e]);
  return {
    type: 'group',
    children: [
      { type: 'line', shape: { x1: c[0], y1: hi[1], x2: c[0], y2: lo[1] }, style: { stroke: '#fff', lineWidth: BAR_W } },
      { type: 'circle', shape: { cx: c[0], cy: c[1], r: MARKER_R }, style: { fill: '#fff' } }
    ]
  };
}

const axisLineStyle = { color: '#fff', width: 3.5 };
const chart = echarts.init(document.getElementById('c'), null, { renderer: 'canvas' });
chart.setOption({
  backgroundColor: '#000',
  animation: false,
  textStyle: { fontFamily: FONT },
  grid: { left: 365, right: 331, top: 18, bottom: 246, show: true, borderColor: '#fff', borderWidth: 3.5,
          backgroundColor: 'transparent', containLabel: false, outerBoundsMode: 'none' },
  legend: {
    orient: 'vertical', left: 2600, top: 47,
    padding: [21, 28, 33, 26],
    itemWidth: 178, itemHeight: 63, itemGap: 30,
    backgroundColor: '#000', borderColor: '#a3a3a3', borderWidth: 4.4, borderRadius: 12,
    textStyle: { color: '#fff', fontSize: 61, fontFamily: FONT },
    itemStyle: { borderWidth: 0 },
    selectedMode: false,
    data: [
      { name: SERIES_MEAN, icon: 'path://M0 0M178 63M0 27.2h34v8.7h-34zM49.5 27.2h34v8.7h-34zM99 27.2h30v8.7h-30z' },
      { name: SERIES_LC, icon: 'path://M0 0M178 63M62.9 0h3.2v63h-3.2zM58.7 31.5a5.8 5.8 0 1 0 11.6 0a5.8 5.8 0 1 0 -11.6 0z' }
    ]
  },
  xAxis: {
    type: 'value', min: X_MIN, max: X_MAX,
    name: 'Time, s', nameLocation: 'middle', nameGap: 162,
    nameTextStyle: { color: '#fff', fontSize: 96, fontFamily: FONT },
    axisLine: { show: true, onZero: false, lineStyle: axisLineStyle },
    axisTick: { show: true, length: 19, lineStyle: axisLineStyle, customValues: X_TICKS },
    axisLabel: { show: true, color: '#fff', fontSize: 87, fontFamily: FONT, margin: 38, customValues: X_TICKS,
                 formatter: v => String(v) },
    splitLine: { show: false }
  },
  yAxis: [
    {
      type: 'value', position: 'left', min: Y_MIN, max: Y_MAX,
      name: 'Counts per sec', nameLocation: 'middle', nameRotate: 90, nameGap: 235,
      nameTextStyle: { color: '#fff', fontSize: 96, fontFamily: FONT },
      axisLine: { show: true, onZero: false, lineStyle: axisLineStyle },
      axisTick: { show: true, length: 20, lineStyle: axisLineStyle, customValues: Y_TICKS },
      axisLabel: { show: true, color: '#fff', fontSize: 87, fontFamily: FONT, margin: 44, customValues: Y_TICKS,
                   formatter: v => String(v) },
      splitLine: { show: false }
    },
    {
      type: 'value', position: 'right', min: Y_MIN / COUNTS_PER_LUM, max: Y_MAX / COUNTS_PER_LUM,
      name: '{b|Luminosity, ×10}{sup|36}{b| erg }{it|s}{sup|−1}', nameLocation: 'middle', nameRotate: 90, nameGap: 215,
      nameTextStyle: { color: '#fff', fontSize: 95, fontFamily: FONT,
        rich: {
          b: { color: '#fff', fontSize: 95, fontFamily: FONT, lineHeight: 95 },
          it: { color: '#fff', fontSize: 95, fontFamily: FONT, fontStyle: 'italic', lineHeight: 95 },
          sup: { color: '#fff', fontSize: 61, fontFamily: FONT, lineHeight: 44, verticalAlign: 'top' }
        } },
      axisLine: { show: true, onZero: false, lineStyle: axisLineStyle },
      axisTick: { show: true, length: 19, lineStyle: axisLineStyle, customValues: LUM_TICKS },
      axisLabel: { show: true, color: '#fff', fontSize: 87, fontFamily: FONT, margin: 47, customValues: LUM_TICKS,
                   formatter: v => v.toFixed(1) },
      splitLine: { show: false }
    }
  ],
  series: [
    {
      type: 'custom', name: SERIES_LC, xAxisIndex: 0, yAxisIndex: 0,
      data: points, encode: { x: 0, y: 1 },
      itemStyle: { color: '#fff' },
      renderItem: renderErrorBar, z: 2, silent: true
    },
    {
      type: 'line', name: SERIES_MEAN, xAxisIndex: 0, yAxisIndex: 0,
      data: [[X_MIN, MEAN_COUNTS], [X_MAX, MEAN_COUNTS]],
      symbol: 'none', silent: true, z: 4,
      itemStyle: { color: '#808080' },
      lineStyle: { color: '#808080', width: 8.7, type: [34, 15.5], cap: 'butt' }
    }
  ]
});
</script>
</body></html>
